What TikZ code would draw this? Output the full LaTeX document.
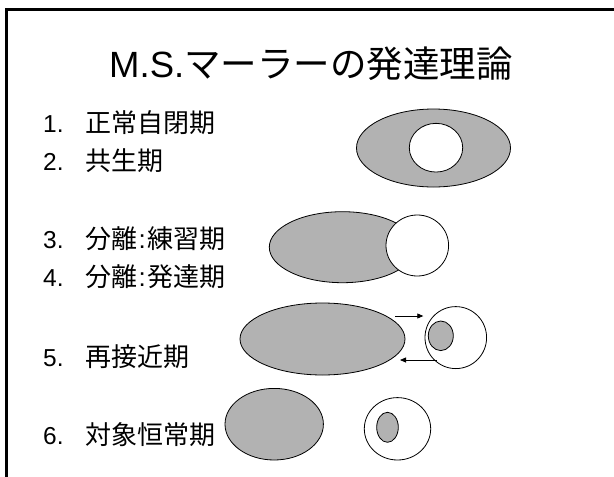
\documentclass[tikz,border=0pt]{standalone}
\usepackage{fontspec}
\setmainfont{Liberation Sans}
\newfontfamily\jp{Noto Sans CJK JP}
\usetikzlibrary{shapes.geometric,arrows.meta}
\definecolor{fillgray}{RGB}{178,178,178}
\tikzset{
  blobg/.style={ellipse, draw=black, line width=0.8pt, fill=fillgray, inner sep=0pt},
  blobw/.style={ellipse, draw=black, line width=0.8pt, fill=white, inner sep=0pt},
  numtxt/.style={anchor=base west, inner sep=0pt, font=\fontsize{24.5}{25}\selectfont},
  jptxt/.style={anchor=base west, inner sep=0pt, font=\fontsize{26}{27}\selectfont\jp},
  moveArrow/.style={line width=0.8pt, -{Triangle[length=6pt,width=5pt]}},
}
\begin{document}
\begin{tikzpicture}[x=1pt,y=-1pt]
\useasboundingbox (0,0) rectangle (614,477);
\fill[white] (0,0) rectangle (614,477);
% frame
\draw[line width=3pt] (6.5,477) -- (6.5,9.8) -- (614,9.8);
% title
\node[anchor=base west, inner sep=0pt, font=\fontsize{36.5}{37}\selectfont] (title) at (109,77) {M.S.{\jp マーラーの発達理論}};
% list
\node[numtxt] (n1) at (43,132) {1.};
\node[jptxt] (t1) at (85,132) {正常自閉期};
\node[numtxt] (n2) at (43,170) {2.};
\node[jptxt] (t2) at (85,170) {共生期};
\node[numtxt] (n3) at (43,248.3) {3.};
\node[jptxt] (t3) at (85,248.3) {分離\hspace{1.5pt}{\fontspec{Liberation Sans}:}\hspace{1.5pt}練習期};
\node[numtxt] (n4) at (43,286.7) {4.};
\node[jptxt] (t4) at (85,286.7) {分離\hspace{1.5pt}{\fontspec{Liberation Sans}:}\hspace{1.5pt}発達期};
\node[numtxt] (n5) at (43,366.7) {5.};
\node[jptxt] (t5) at (85,366.7) {再接近期};
\node[numtxt] (n6) at (43,444.5) {6.};
\node[jptxt] (t6) at (85,444.5) {対象恒常期};
% stage 1-2
\node[blobg, minimum width=154pt, minimum height=78pt] (e1) at (433.5,148) {};
\node[blobw, minimum width=53.4pt, minimum height=48.7pt] (c1) at (436,147.7) {};
% stage 3-4
\node[blobg, minimum width=146.4pt, minimum height=71pt] (e3) at (342.5,247.2) {};
\node[blobw, minimum width=62.6pt, minimum height=61pt] (c3) at (417.3,245.5) {};
% stage 5
\node[blobg, minimum width=165pt, minimum height=72pt] (e5) at (322.5,339) {};
\node[blobw, minimum width=61.6pt, minimum height=62pt] (c5) at (455.8,337.6) {};
\node[blobg, minimum width=25pt, minimum height=29.6pt] (i5) at (440.8,335.8) {};
\coordinate (a1s) at (395,316);
\coordinate (a1e) at (423.3,316);
\coordinate (a2s) at (436.7,360);
\coordinate (a2e) at (400,360);
\draw[moveArrow] (a1s) -- (a1e);
\draw[moveArrow] (a2s) -- (a2e);
% stage 6
\node[blobg, minimum width=98.4pt, minimum height=71.6pt] (e6) at (274.2,424.2) {};
\node[blobw, minimum width=66.4pt, minimum height=62.4pt] (c6) at (397.5,428.8) {};
\node[blobg, minimum width=21.6pt, minimum height=30pt] (i6) at (387.5,427.3) {};
\end{tikzpicture}
\end{document}
